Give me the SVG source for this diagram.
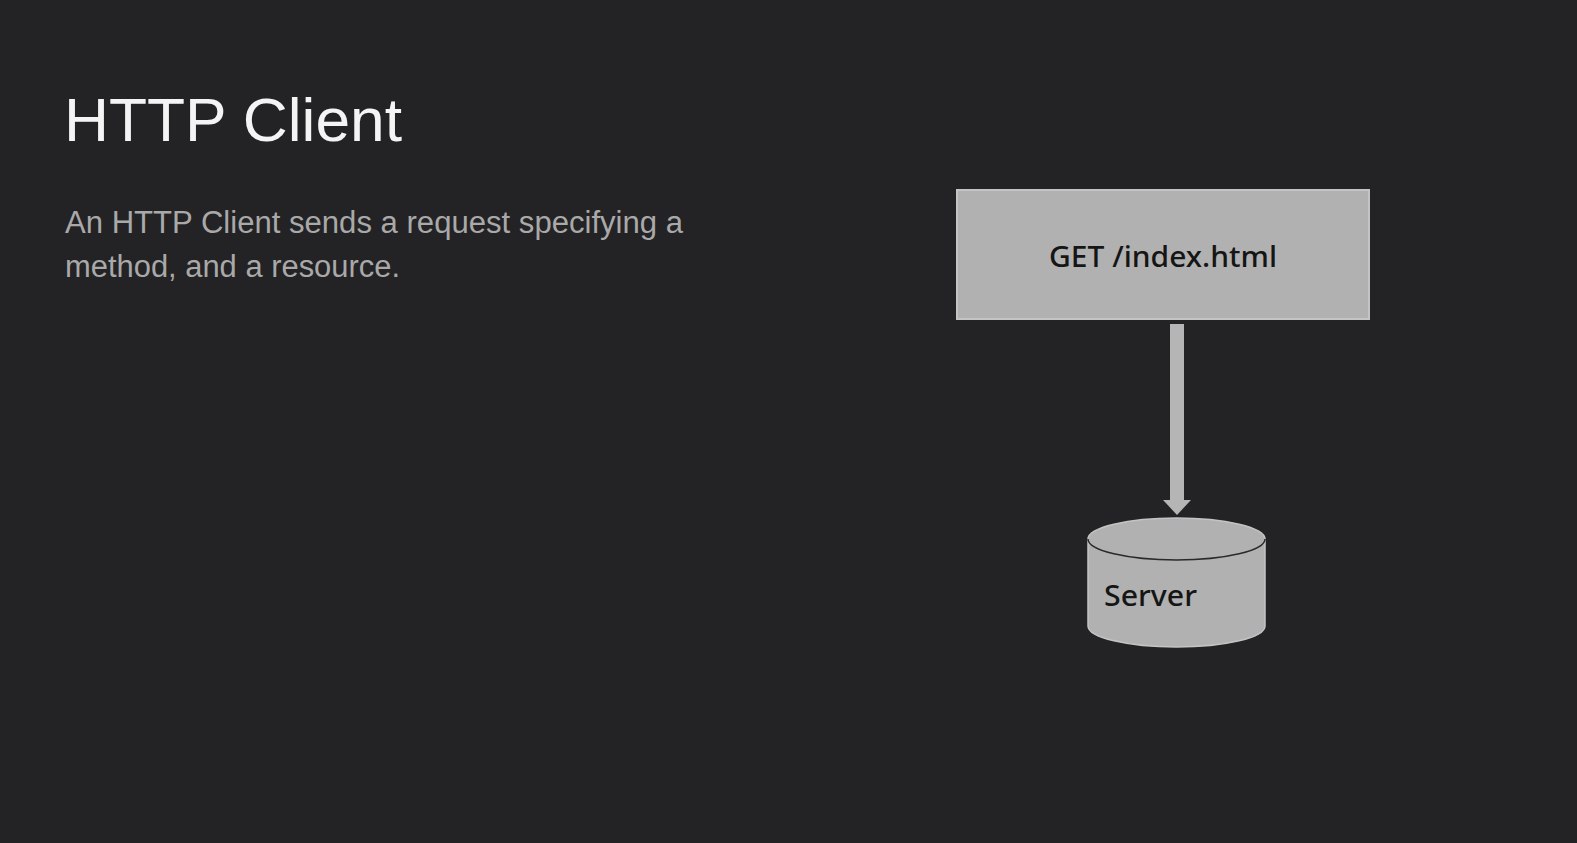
<svg xmlns="http://www.w3.org/2000/svg" width="1577" height="843" viewBox="0 0 1577 843">
<style>
.title{font-family:"Liberation Sans",Arial,sans-serif;font-size:62px;fill:#f4f4f4}
.body{font-family:"Liberation Sans",Arial,sans-serif;font-size:31px;fill:#a9a9a9}
.lbl{font-family:"Noto Sans","DejaVu Sans",sans-serif;font-size:29px;font-weight:500;fill:#151515}
.shape{fill:#b1b1b1}
</style>
<rect width="1577" height="843" fill="#232224"/>
<text class="title" x="64" y="141" textLength="338" lengthAdjust="spacingAndGlyphs">HTTP Client</text>
<text class="body" x="65" y="233" textLength="618" lengthAdjust="spacingAndGlyphs">An HTTP Client sends a request specifying a</text>
<text class="body" x="65" y="277" textLength="335" lengthAdjust="spacingAndGlyphs">method, and a resource.</text>
<g id="connectors">
<line x1="1177" y1="324" x2="1177" y2="501" stroke="#b5b5b5" stroke-width="14"/>
<path d="M1163,500 L1191,500 L1177,515 Z" fill="#b5b5b5"/>
</g>
<g id="request">
<rect x="957" y="190" width="412" height="129" class="shape" stroke="#c4c4c4" stroke-width="2"/>
<text class="lbl" x="1163" y="267" text-anchor="middle" textLength="228" lengthAdjust="spacingAndGlyphs">GET /index.html</text>
</g>
<g id="server">
<path d="M1088,539 L1088,626 A88.5,21 0 0 0 1265,626 L1265,539 A88.5,21 0 0 0 1088,539 Z" class="shape" stroke="#c4c4c4" stroke-width="1.5"/>
<path d="M1088,539 A88.5,21 0 0 0 1265,539" fill="none" stroke="#2a2a2a" stroke-width="1.5"/>
<text class="lbl" x="1104" y="606" textLength="93" lengthAdjust="spacingAndGlyphs">Server</text>
</g>
</svg>
